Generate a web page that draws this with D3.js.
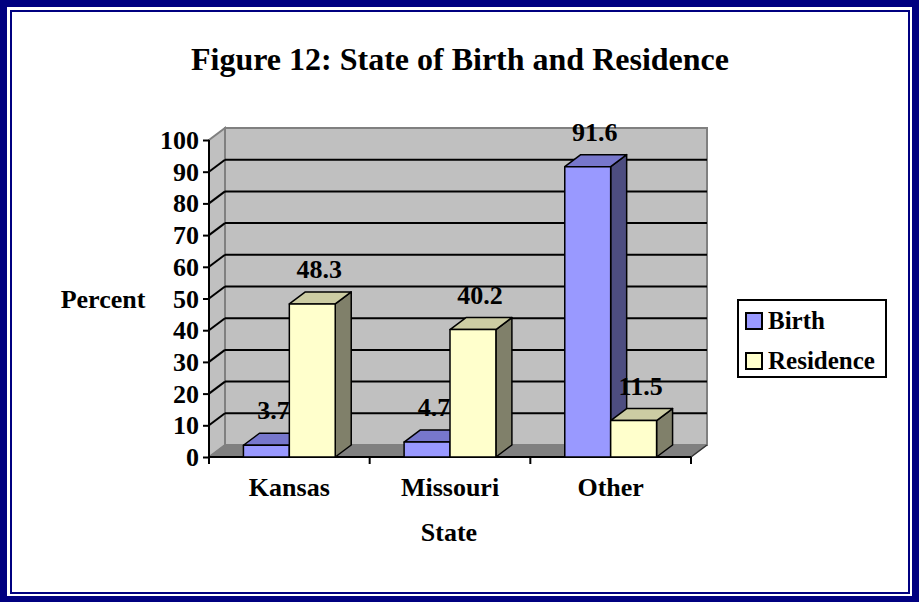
<!DOCTYPE html>
<html>
<head>
<meta charset="utf-8">
<script src="https://cdn.jsdelivr.net/npm/d3@7"></script>
<style>
  html, body { margin: 0; padding: 0; background: #fff; }
  svg text { font-family: "Liberation Serif", "Times New Roman", serif !important; font-weight: bold; fill: #000; }
</style>
</head>
<body>
<div id="chart"></div>
<script>
// chart data
const categories = ["Kansas", "Missouri", "Other"];
const seriesNames = ["Birth", "Residence"];
const birthValues = [3.7, 4.7, 91.6];
const residenceValues = [48.3, 40.2, 11.5];
const yTicks = [0, 10, 20, 30, 40, 50, 60, 70, 80, 90, 100];

const W = 919, H = 602;
const DX = 16, DY = -12; // depth offset of the 3D box
const FONT = "'Liberation Serif', 'Times New Roman', serif";

const colors = {
    Birth: { front: "#9999ff", top: "#7777cc", side: "#4d4d80" },
    Residence: { front: "#ffffcc", top: "#cccca3", side: "#80806a" }
};

const svg = d3.select("#chart").append("svg")
    .attr("width", W)
    .attr("height", H)
    .attr("font-family", FONT);

// frame
svg.append("rect").attr("width", W).attr("height", H).attr("fill", "#000080");
svg.append("rect").attr("x", 7).attr("y", 7).attr("width", 905).attr("height", 589).attr("fill", "#fff");
svg.append("rect").attr("x", 11).attr("y", 11).attr("width", 898).attr("height", 582)
    .attr("fill", "none").attr("stroke", "#000080").attr("stroke-width", 2);

// title
svg.append("text")
    .attr("x", 460).attr("y", 70)
    .attr("text-anchor", "middle")
    .style("font-size", "32px")
    .text("Figure 12: State of Birth and Residence");

// scales
const y = d3.scaleLinear().domain([0, 100]).range([457, 140]);
const x0 = d3.scaleBand().domain(categories).range([209, 691]);
const x1 = d3.scaleBand().domain(seriesNames).range([0, x0.bandwidth()]).paddingOuter(0.75);

const left = 209, right = 691, y0 = y(0), yTop = y(100);

// side wall (left)
svg.append("polygon")
    .attr("points", [[left, y0], [left + DX, y0 + DY], [left + DX, yTop + DY], [left, yTop]].join(" "))
    .attr("fill", "#c0c0c0").attr("stroke", "#808080").attr("stroke-width", 2);

// back wall
svg.append("rect")
    .attr("x", left + DX).attr("y", yTop + DY)
    .attr("width", right - left).attr("height", y0 - yTop)
    .attr("fill", "#c0c0c0").attr("stroke", "#808080").attr("stroke-width", 2);

// floor
svg.append("polygon")
    .attr("points", [[left, y0], [left + DX, y0 + DY], [right + DX, y0 + DY], [right, y0]].join(" "))
    .attr("fill", "#808080").attr("stroke", "#808080").attr("stroke-width", 1);

// gridlines on back wall and side wall
const grid = svg.append("g").attr("stroke", "#000").attr("stroke-width", 2);
yTicks.filter(t => t > 0 && t < 100).forEach(t => {
    grid.append("line")
        .attr("x1", left + DX).attr("x2", right + DX)
        .attr("y1", y(t) + DY).attr("y2", y(t) + DY);
    grid.append("line")
        .attr("x1", left).attr("x2", left + DX)
        .attr("y1", y(t)).attr("y2", y(t) + DY);
});

// right floor edge
svg.append("line")
    .attr("x1", right).attr("y1", y0).attr("x2", right + DX).attr("y2", y0 + DY)
    .attr("stroke", "#333").attr("stroke-width", 1.5);

// y axis
const yAxis = svg.append("g").attr("transform", `translate(${left},0)`)
    .call(d3.axisLeft(y).tickValues(yTicks).tickSize(6).tickPadding(4))
    .attr("font-family", FONT).attr("font-size", 26);
yAxis.select(".domain").attr("stroke", "#000").attr("stroke-width", 2).attr("d", `M0,${yTop}V${y0}`);
yAxis.selectAll(".tick line").attr("stroke", "#000").attr("stroke-width", 2);
yAxis.selectAll(".tick text")
    .style("font-size", "26px")
    .attr("fill", "#000")
    .attr("dy", "0.33em");

// x axis
const xAxis = svg.append("g").attr("transform", `translate(0,${y0})`);
xAxis.append("line").attr("x1", left).attr("x2", right).attr("y1", 0).attr("y2", 0)
    .attr("stroke", "#000").attr("stroke-width", 2);
const bounds = categories.map(c => x0(c)).concat([right]);
xAxis.selectAll(".xtick").data(bounds).enter().append("line")
    .attr("x1", d => d).attr("x2", d => d).attr("y1", 0).attr("y2", 7)
    .attr("stroke", "#000").attr("stroke-width", 2);
xAxis.selectAll(".xlabel").data(categories).enter().append("text")
    .attr("x", d => x0(d) + x0.bandwidth() / 2)
    .attr("y", 39)
    .attr("text-anchor", "middle")
    .style("font-size", "26px")
    .text(d => d);

// bars, drawn series by series inside each category
const bars = svg.append("g");
categories.forEach((cat, i) => {
    const vals = { Birth: birthValues[i], Residence: residenceValues[i] };
    seriesNames.forEach(s => {
        const v = vals[s];
        const bx = x0(cat) + x1(s);
        const bw = x1.bandwidth();
        const yt = y(v);
        const c = colors[s];
        const g = bars.append("g").attr("stroke", "#000").attr("stroke-width", 1.5).attr("stroke-linejoin", "round");
        g.append("polygon")
            .attr("points", [[bx + bw, yt], [bx + bw + DX, yt + DY], [bx + bw + DX, y0 + DY], [bx + bw, y0]].join(" "))
            .attr("fill", c.side);
        g.append("polygon")
            .attr("points", [[bx, yt], [bx + DX, yt + DY], [bx + bw + DX, yt + DY], [bx + bw, yt]].join(" "))
            .attr("fill", c.top);
        g.append("rect")
            .attr("x", bx).attr("y", yt).attr("width", bw).attr("height", y0 - yt)
            .attr("fill", c.front);
        bars.append("text")
            .attr("x", bx + bw / 2 + 7)
            .attr("y", yt - 26)
            .attr("text-anchor", "middle")
            .style("font-size", "26px")
            .text(v);
    });
});

// axis titles
svg.append("text").attr("x", 103).attr("y", 308).attr("text-anchor", "middle")
    .style("font-size", "26px").text("Percent");
svg.append("text").attr("x", 449).attr("y", 541).attr("text-anchor", "middle")
    .style("font-size", "26px").text("State");

// legend
const legend = svg.append("g");
legend.append("rect").attr("x", 738).attr("y", 300).attr("width", 148).attr("height", 77)
    .attr("fill", "#fff").attr("stroke", "#000").attr("stroke-width", 2);
const legendY = d3.scalePoint().domain(seriesNames).range([321, 361]);
seriesNames.forEach(s => {
    legend.append("rect")
        .attr("x", 746).attr("y", legendY(s) - 8).attr("width", 16).attr("height", 16)
        .attr("fill", colors[s].front).attr("stroke", "#000").attr("stroke-width", 2);
    legend.append("text")
        .attr("x", 768).attr("y", legendY(s) + 8)
        .style("font-size", "25px")
        .text(s);
});
</script>
</body>
</html>
